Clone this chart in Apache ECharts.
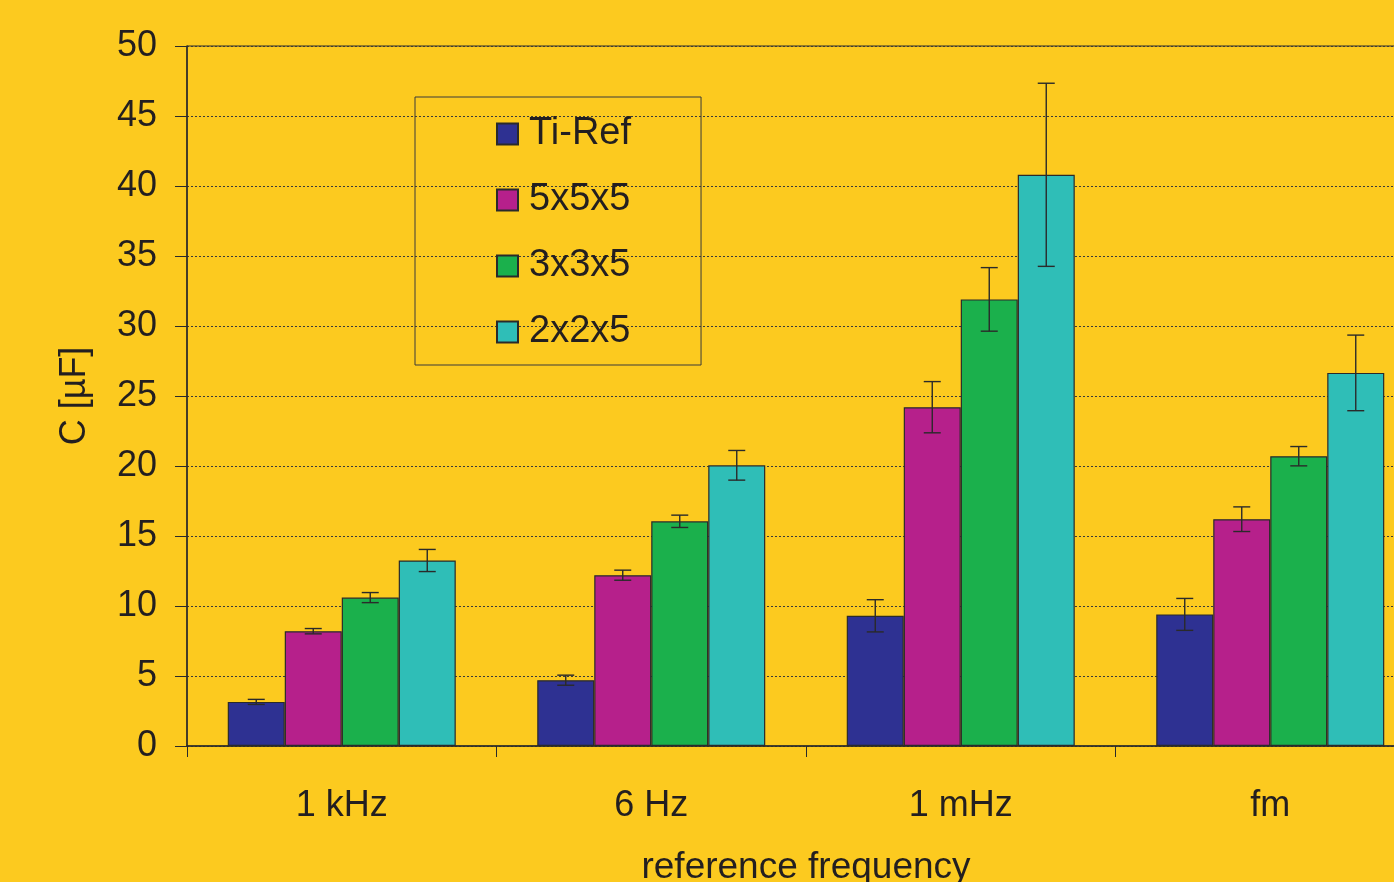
<!DOCTYPE html>
<html>
<head>
<meta charset="utf-8">
<style>
  html, body { margin: 0; padding: 0; background: #FCCA1F; }
  #chart { width: 1394px; height: 882px; }
</style>
<script src="https://cdn.jsdelivr.net/npm/echarts@6/dist/echarts.min.js"></script>
</head>
<body>
<div id="chart"></div>
<script>
// Capacitance per reference frequency, mean values and +/- spread
const categories = ['1 kHz', '6 Hz', '1 mHz', 'fm'];
const seriesNames = ['Ti-Ref', '5x5x5', '3x3x5', '2x2x5'];

const tiRef      = [3.15, 4.7, 9.3, 9.4];
const s5x5x5     = [8.2, 12.2, 24.2, 16.2];
const s3x3x5     = [10.6, 16.05, 31.9, 20.7];
const s2x2x5     = [13.25, 20.05, 40.8, 26.65];

const tiRefErr   = [0.18, 0.36, 1.15, 1.14];
const s5x5x5Err  = [0.19, 0.36, 1.83, 0.88];
const s3x3x5Err  = [0.36, 0.44, 2.27, 0.69];
const s2x2x5Err  = [0.79, 1.06, 6.54, 2.7];

const yTicks = [0, 5, 10, 15, 20, 25, 30, 35, 40, 45, 50];

const values = [tiRef, s5x5x5, s3x3x5, s2x2x5];
const errors = [tiRefErr, s5x5x5Err, s3x3x5Err, s2x2x5Err];
const colors = ['#2E3192', '#B6208B', '#1BB04C', '#2FBEB7'];

const FONT = '"Liberation Sans", Arial, sans-serif';
const INK = '#231F20';
const BAR_W = 57;
const CAP = 17;

const chart = echarts.init(document.getElementById('chart'));

const barSeries = seriesNames.map((name, i) => ({
  name: name,
  type: 'bar',
  data: values[i],
  barWidth: BAR_W,
  barGap: '0%',
  itemStyle: { color: colors[i], borderColor: '#2a2a2a', borderWidth: 1.2 },
  z: 2
}));

const errSeries = seriesNames.map((name, i) => ({
  type: 'custom',
  name: name + ' err',
  data: values[i].map((v, k) => [k, v, errors[i][k]]),
  z: 5,
  silent: true,
  renderItem: function (params, api) {
    const k = api.value(0), v = api.value(1), e = api.value(2);
    const off = (i - 1.5) * BAR_W;
    const hi = api.coord([k, v + e]);
    const lo = api.coord([k, v - e]);
    const x = hi[0] + off;
    const st = { stroke: '#2a2a2a', lineWidth: 1.4 };
    return {
      type: 'group',
      children: [
        { type: 'line', shape: { x1: x, y1: hi[1], x2: x, y2: lo[1] }, style: st },
        { type: 'line', shape: { x1: x - CAP / 2, y1: hi[1], x2: x + CAP / 2, y2: hi[1] }, style: st },
        { type: 'line', shape: { x1: x - CAP / 2, y1: lo[1], x2: x + CAP / 2, y2: lo[1] }, style: st }
      ]
    };
  }
}));

chart.setOption({
  backgroundColor: '#FCCA1F',
  animation: false,
  textStyle: { fontFamily: FONT, color: INK },
  grid: {
    left: 187, top: 46, width: 1238, height: 700,
    containLabel: false,
    outerBoundsMode: 'none',
    show: true, borderColor: '#2a2a2a', borderWidth: 1, backgroundColor: 'transparent'
  },
  legend: {
    data: seriesNames,
    orient: 'vertical',
    left: 415, top: 97,
    padding: [18, 70, 14, 81],
    itemWidth: 21, itemHeight: 21, itemGap: 28,
    icon: 'rect',
    borderColor: '#3a3a3a', borderWidth: 1,
    textStyle: { fontFamily: FONT, fontSize: 38, lineHeight: 37, color: INK, padding: [0, 0, 0, 6] }
  },
  xAxis: {
    type: 'category',
    data: categories,
    boundaryGap: true,
    name: 'reference frequency',
    nameLocation: 'middle',
    nameGap: 103,
    nameTextStyle: { fontFamily: FONT, fontSize: 37, color: INK },
    axisLine: { lineStyle: { color: '#2a2a2a', width: 1.5 } },
    axisTick: { show: true, length: 11, lineStyle: { color: '#2a2a2a' } },
    axisLabel: { fontFamily: FONT, fontSize: 36, color: INK, margin: 42 },
    splitLine: { show: false }
  },
  yAxis: {
    type: 'value',
    min: yTicks[0], max: yTicks[yTicks.length - 1], interval: 5,
    name: 'C [µF]',
    nameLocation: 'middle',
    nameGap: 94,
    nameRotate: 90,
    nameTextStyle: { fontFamily: FONT, fontSize: 36, color: INK },
    axisLine: { show: true, lineStyle: { color: '#2a2a2a', width: 1.5 } },
    axisTick: { show: true, length: 12, lineStyle: { color: '#2a2a2a' } },
    axisLabel: { fontFamily: FONT, fontSize: 36, color: INK, margin: 30 },
    splitLine: { show: true, lineStyle: { color: '#3a3a3a', width: 1, type: [2, 2] } }
  },
  series: barSeries.concat(errSeries)
});
</script>
</body>
</html>
